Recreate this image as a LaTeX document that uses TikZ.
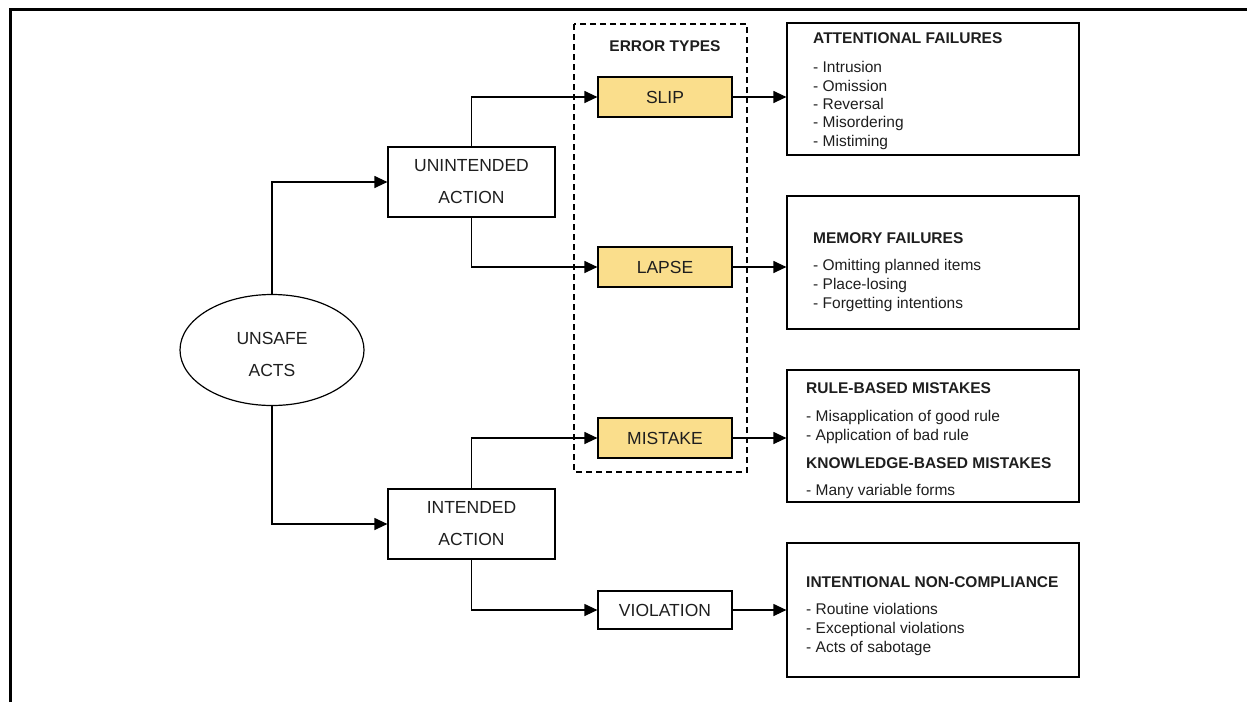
\documentclass[tikz,border=0pt]{standalone}
\usepackage{fontspec}
\setmainfont{Liberation Sans}
\usetikzlibrary{arrows.meta,shapes.geometric}
\definecolor{errorfill}{RGB}{250,222,140}
\definecolor{inkgray}{RGB}{30,30,30}
\tikzstyle{box} = [draw, line width=1.2pt, rectangle, inner sep=0pt, text=inkgray, font=\fontsize{17.5}{32}\selectfont, align=center]

\begin{document}
\begin{tikzpicture}[x=1pt, y=-1pt,
			action/.style={box, minimum width=167pt, minimum height=70pt},
			error/.style={box, fill=errorfill, minimum width=134pt, minimum height=40pt},
			panel/.style={draw, line width=1.2pt, minimum width=292pt, inner sep=0pt},
			paneltext/.style={anchor=north west, inner sep=0pt, align=left, text=inkgray, font=\fontsize{15.5}{19}\selectfont},
			arr/.style={line width=1.2pt, -{Triangle[length=13pt, width=12pt]}}]
			\useasboundingbox (0,0) rectangle (1247,702);
			\draw [line width=3pt] (10,702) |- (1247,9);
			\node (acts) [box, ellipse, minimum width=184pt, minimum height=111pt, text height=52.5pt, text depth=0pt] at (272,350) {UNSAFE\\ACTS};
			\node (unint) [action] at (471.5,182) {UNINTENDED\\ACTION};
			\node (inten) [action] at (471.5,524) {INTENDED\\ACTION};
			\draw [line width=1.2pt, dash pattern=on 6pt off 4pt] (574,24) rectangle (747,472);
			\node (types) [text=inkgray, font=\bfseries\fontsize{15.5}{19}\selectfont] at (665,46) {ERROR TYPES};
			\node (slip) [error] at (665,97) {SLIP};
			\node (lapse) [error] at (665,267) {LAPSE};
			\node (mistake) [error] at (665,438) {MISTAKE};
			\node (viol) [box, minimum width=134pt, minimum height=38pt] at (665,610) {VIOLATION};
			\node (att) [panel, minimum height=132pt] at (933,89) {};
			\node (mem) [panel, minimum height=133pt] at (933,262.5) {};
			\node (rule) [panel, minimum height=132pt] at (933,436) {};
			\node (intent) [panel, minimum height=134pt] at (933,610) {};
			\node (attT) [paneltext, font=\fontsize{15.5}{18.3}\selectfont] at (813,32.5) {\textbf{ATTENTIONAL FAILURES}\\[11pt]
				- Intrusion\\- Omission\\- Reversal\\- Misordering\\- Mistiming};
			\node (memT) [paneltext] at (813,232.5) {\textbf{MEMORY FAILURES}\\[8pt]
				- Omitting planned items\\- Place-losing\\- Forgetting intentions};
			\node (ruleT) [paneltext] at (806,382.5) {\textbf{RULE-BASED MISTAKES}\\[9pt]
				- Misapplication of good rule\\- Application of bad rule\\[9pt]
				\textbf{KNOWLEDGE-BASED MISTAKES}\\[8pt]
				- Many variable forms};
			\node (intentT) [paneltext] at (806,576.5) {\textbf{INTENTIONAL NON-COMPLIANCE}\\[8pt]
				- Routine violations\\- Exceptional violations\\- Acts of sabotage};
			\draw [arr] (acts.north) |- (unint.west);
			\draw [arr] (acts.south) |- (inten.west);
			\draw [arr] (unint.north) |- (slip.west);
			\draw [arr] (unint.south) |- (lapse.west);
			\draw [arr] (inten.north) |- (mistake.west);
			\draw [arr] (inten.south) |- (viol.west);
			\draw [arr] (slip.east) -- (slip.east -| att.west);
			\draw [arr] (lapse.east) -- (lapse.east -| mem.west);
			\draw [arr] (mistake.east) -- (mistake.east -| rule.west);
			\draw [arr] (viol.east) -- (viol.east -| intent.west);
		\end{tikzpicture}
\end{document}
